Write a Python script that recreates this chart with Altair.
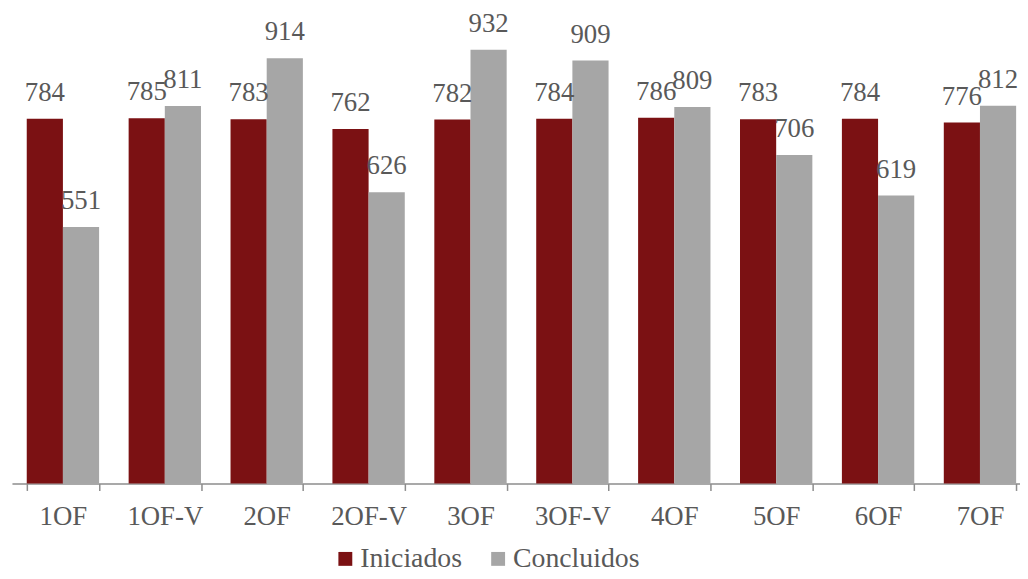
import altair as alt
import pandas as pd

cats = ["1OF", "1OF-V", "2OF", "2OF-V", "3OF", "3OF-V", "4OF", "5OF", "6OF", "7OF"]
iniciados = [784, 785, 783, 762, 782, 784, 786, 783, 784, 776]
concluidos = [551, 811, 914, 626, 932, 909, 809, 706, 619, 812]
series = ["Iniciados", "Concluidos"]
colors = ["#7B1113", "#A6A6A6"]

rows = []
for c, a, b in zip(cats, iniciados, concluidos):
    rows.append({"cat": c, "serie": "Iniciados", "v": a})
    rows.append({"cat": c, "serie": "Concluidos", "v": b})
df = pd.DataFrame(rows)

FONT = "Liberation Serif"
TXT = "#595959"

x = alt.X("cat:N", sort=cats,
          scale=alt.Scale(range=[0, 1027], paddingInner=0.29, paddingOuter=0.145),
          axis=alt.Axis(title=None, labelAngle=0, tickBand="extent",
                        labelFont=FONT, labelFontSize=27, labelColor=TXT,
                        labelPadding=13, tickSize=7, tickColor="#8C8C8C",
                        domainColor="#8C8C8C", domainWidth=1.5, tickWidth=1.5))
xo = alt.XOffset("serie:N", sort=series, scale=alt.Scale(paddingInner=0, paddingOuter=0))
y = alt.Y("v:Q", scale=alt.Scale(domain=[0, 1000]), axis=None)

base = alt.Chart(df).encode(x=x, xOffset=xo, y=y)

bars = base.mark_bar().encode(
    color=alt.Color("serie:N", sort=series,
                    scale=alt.Scale(domain=series, range=colors),
                    legend=alt.Legend(title=None, orient="none", direction="horizontal",
                                      legendX=322, legendY=531,
                                      symbolType="square", symbolSize=196,
                                      symbolStrokeWidth=0, symbolOpacity=1,
                                      labelFont=FONT, labelFontSize=28, labelColor=TXT,
                                      labelOffset=1, columnPadding=22, padding=0,
                                      labelLimit=300))
)

labels = base.mark_text(font=FONT, fontSize=27, color=TXT, baseline="alphabetic", dy=-18).encode(
    text="v:Q"
)

chart = (bars + labels).properties(
    width=1016, height=469,
    autosize=alt.AutoSizeParams(type="none"),
    padding={"left": 4, "top": 8, "right": 0, "bottom": 92},
).configure_view(stroke=None)

chart.save("out.html", embed_options={"renderer": "svg", "actions": False})
